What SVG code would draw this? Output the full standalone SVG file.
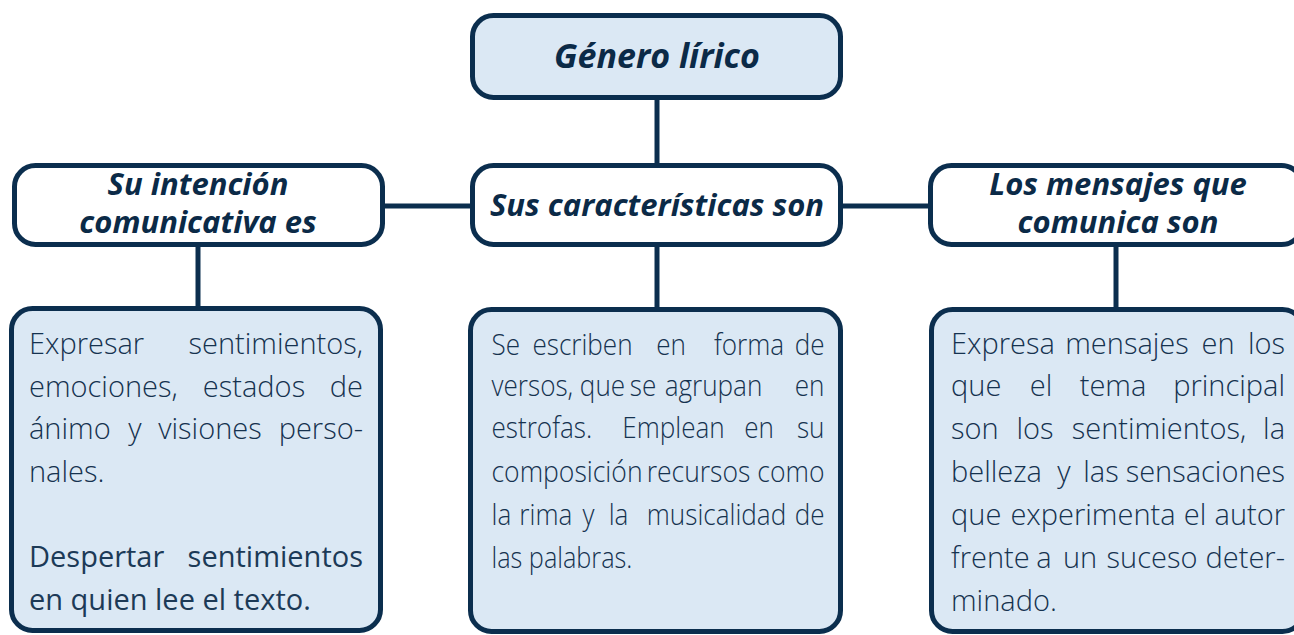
<svg xmlns="http://www.w3.org/2000/svg" width="1294" height="635" viewBox="0 0 1294 635">
<style>
.box{stroke:#0b2e4e;stroke-width:5;}
.blue{fill:#dbe8f4;}
.white{fill:#ffffff;}
.conn{stroke:#0b2e4e;stroke-width:5;fill:none;}
.hdr{font-family:"Open Sans","Liberation Sans",sans-serif;font-weight:700;font-style:italic;font-size:31px;fill:#0b2a47;text-anchor:middle;}
.big{font-size:34px;}
.body{font-family:"Open Sans","Liberation Sans",sans-serif;font-weight:300;font-size:29px;fill:#15324f;}
.reg{font-weight:400;fill:#1c3a57;}
.c{text-anchor:middle;}
.e{text-anchor:end;}
</style>
<rect width="1294" height="635" fill="#ffffff"/>
<g id="connectors">
<line class="conn" x1="657" y1="98" x2="657" y2="166"/>
<line class="conn" x1="382" y1="206" x2="472" y2="206"/>
<line class="conn" x1="840" y1="206" x2="931" y2="206"/>
<line class="conn" x1="198" y1="244" x2="198" y2="309"/>
<line class="conn" x1="657" y1="244" x2="657" y2="310"/>
<line class="conn" x1="1116" y1="244" x2="1116" y2="310"/>
</g>
<g id="node-genero">
<rect class="box blue" x="472.5" y="15.5" width="368" height="82" rx="21"/>
<text class="hdr big" x="657" y="68">Género lírico</text>
</g>
<g id="node-caracteristicas">
<rect class="box white" x="472.5" y="165.5" width="368" height="79" rx="21"/>
<text class="hdr" x="657" y="216">Sus características son</text>
</g>
<g id="node-intencion">
<rect class="box white" x="14.5" y="165.5" width="368" height="79" rx="21"/>
<text class="hdr" x="198" y="195">Su intención</text>
<text class="hdr" x="198" y="233">comunicativa es</text>
</g>
<g id="node-mensajes">
<rect class="box white" x="930.5" y="165.5" width="372" height="79" rx="21"/>
<text class="hdr" x="1118" y="195">Los mensajes que</text>
<text class="hdr" x="1118" y="233">comunica son</text>
</g>
<g id="node-intencion-detalle">
<rect class="box blue" x="11.5" y="308.5" width="369" height="322" rx="21"/>
<text class="body" y="354"><tspan x="29">Expresar</tspan><tspan x="363" text-anchor="end">sentimientos,</tspan></text>
<text class="body" y="397"><tspan x="29">emociones,</tspan><tspan x="254" text-anchor="middle">estados</tspan><tspan x="363" text-anchor="end">de</tspan></text>
<text class="body" y="439"><tspan x="29">ánimo</tspan><tspan x="135" text-anchor="middle">y</tspan><tspan x="210" text-anchor="middle">visiones</tspan><tspan x="363" text-anchor="end">perso-</tspan></text>
<text class="body" y="482"><tspan x="29">nales.</tspan></text>
<text class="body reg" y="567"><tspan x="29">Despertar</tspan><tspan x="363" text-anchor="end">sentimientos</tspan></text>
<text class="body reg" y="610" x="29">en quien lee el texto.</text>
</g>
<g id="node-caracteristicas-detalle">
<rect class="box blue" x="470.5" y="309.5" width="370" height="322" rx="21"/>
<text class="body" transform="translate(491.5 355) scale(0.9 1)">Se</text>
<text class="body c" transform="translate(582.5 355) scale(0.9 1)">escriben</text>
<text class="body c" transform="translate(671 355) scale(0.9 1)">en</text>
<text class="body c" transform="translate(749 355) scale(0.9 1)">forma</text>
<text class="body e" transform="translate(824.5 355) scale(0.9 1)">de</text>
<text class="body" transform="translate(491.5 396) scale(0.9 1)">versos,</text>
<text class="body c" transform="translate(602.5 396) scale(0.9 1)">que</text>
<text class="body c" transform="translate(643 396) scale(0.9 1)">se</text>
<text class="body c" transform="translate(713.5 396) scale(0.9 1)">agrupan</text>
<text class="body e" transform="translate(824.5 396) scale(0.9 1)">en</text>
<text class="body" transform="translate(491.5 438) scale(0.9 1)">estrofas.</text>
<text class="body c" transform="translate(673.5 438) scale(0.9 1)">Emplean</text>
<text class="body c" transform="translate(759 438) scale(0.9 1)">en</text>
<text class="body e" transform="translate(824.5 438) scale(0.9 1)">su</text>
<text class="body" transform="translate(491.5 482) scale(0.915 1)">composición</text>
<text class="body c" transform="translate(698.5 482) scale(0.915 1)">recursos</text>
<text class="body e" transform="translate(824.5 482) scale(0.915 1)">como</text>
<text class="body" transform="translate(491.5 525) scale(0.9 1)">la</text>
<text class="body c" transform="translate(545.8 525) scale(0.9 1)">rima</text>
<text class="body c" transform="translate(588.5 525) scale(0.9 1)">y</text>
<text class="body c" transform="translate(618.5 525) scale(0.9 1)">la</text>
<text class="body c" transform="translate(716.5 525) scale(0.9 1)">musicalidad</text>
<text class="body e" transform="translate(824.5 525) scale(0.9 1)">de</text>
<text class="body" transform="translate(491.5 568) scale(0.87 1)">las palabras.</text>
</g>
<g id="node-mensajes-detalle">
<rect class="box blue" x="931.5" y="309.5" width="372" height="322" rx="21"/>
<text class="body" y="354"><tspan x="951">Expresa</tspan><tspan x="1127" text-anchor="middle">mensajes</tspan><tspan x="1218" text-anchor="middle">en</tspan><tspan x="1285" text-anchor="end">los</tspan></text>
<text class="body" y="396"><tspan x="951">que</tspan><tspan x="1041" text-anchor="middle">el</tspan><tspan x="1113" text-anchor="middle">tema</tspan><tspan x="1285" text-anchor="end">principal</tspan></text>
<text class="body" y="439"><tspan x="951">son</tspan><tspan x="1035" text-anchor="middle">los</tspan><tspan x="1159" text-anchor="middle">sentimientos,</tspan><tspan x="1285" text-anchor="end">la</tspan></text>
<text class="body" y="482"><tspan x="951">belleza</tspan><tspan x="1064" text-anchor="middle">y</tspan><tspan x="1101" text-anchor="middle">las</tspan><tspan x="1285" text-anchor="end">sensaciones</tspan></text>
<text class="body" y="525"><tspan x="951">que</tspan><tspan x="1093" text-anchor="middle">experimenta</tspan><tspan x="1195" text-anchor="middle">el</tspan><tspan x="1285" text-anchor="end">autor</tspan></text>
<text class="body" y="568"><tspan x="951">frente</tspan><tspan x="1044" text-anchor="middle">a</tspan><tspan x="1080" text-anchor="middle">un</tspan><tspan x="1152" text-anchor="middle">suceso</tspan><tspan x="1285" text-anchor="end">deter-</tspan></text>
<text class="body" y="611" x="951">minado.</text>
</g>
</svg>
